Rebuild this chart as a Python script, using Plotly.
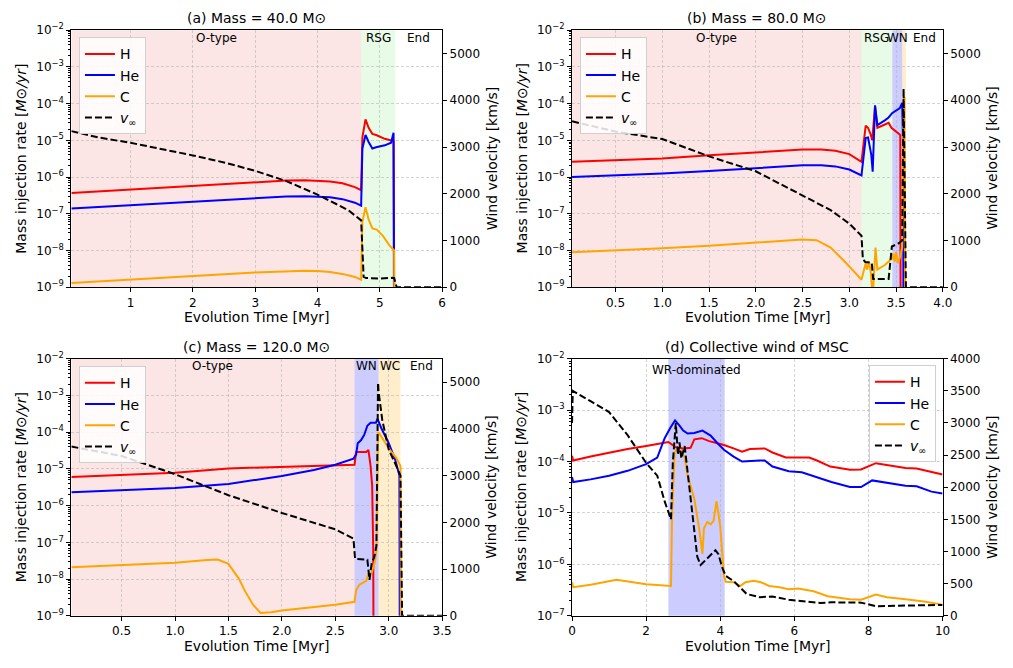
import plotly.graph_objects as go

FONT = "DejaVu Sans"

# ---------------- (a) 40 Msun ----------------
a_H_t = [0.05, 0.5, 1.0, 1.5, 2.0, 2.5, 3.0, 3.5, 3.8, 4.0, 4.2, 4.4, 4.6, 4.70, 4.72, 4.77, 4.82, 4.88, 4.94, 5.08, 5.18, 5.22, 5.23]
a_H = [3.7e-7, 4.1e-7, 4.6e-7, 5.1e-7, 5.7e-7, 6.4e-7, 7.2e-7, 8.0e-7, 8.2e-7, 8.0e-7, 7.6e-7, 6.8e-7, 5.3e-7, 4.4e-7, 1.2e-5, 3.7e-5, 2.2e-5, 1.5e-5, 1.4e-5, 1.1e-5, 9.8e-6, 9.5e-6, 1e-12]
a_He_t = [0.05, 0.5, 1.0, 1.5, 2.0, 2.5, 3.0, 3.5, 3.8, 4.0, 4.2, 4.4, 4.6, 4.70, 4.72, 4.77, 4.82, 4.88, 4.94, 5.08, 5.18, 5.22, 5.235]
a_He = [1.4e-7, 1.55e-7, 1.7e-7, 1.9e-7, 2.15e-7, 2.4e-7, 2.7e-7, 2.95e-7, 3.0e-7, 2.95e-7, 2.8e-7, 2.5e-7, 2.0e-7, 1.65e-7, 6e-6, 1.4e-5, 9e-6, 6e-6, 6.5e-6, 7.3e-6, 8.6e-6, 1.6e-5, 1e-12]
a_C_t = [0.05, 0.5, 1.0, 1.5, 2.0, 2.5, 3.0, 3.5, 3.8, 4.0, 4.2, 4.4, 4.6, 4.70, 4.72, 4.77, 4.82, 4.88, 4.95, 5.05, 5.15, 5.23, 5.24]
a_C = [1.3e-9, 1.45e-9, 1.6e-9, 1.8e-9, 2.0e-9, 2.25e-9, 2.5e-9, 2.75e-9, 2.8e-9, 2.75e-9, 2.6e-9, 2.3e-9, 1.9e-9, 1.6e-9, 6e-8, 1.5e-7, 7e-8, 4e-8, 3.7e-8, 2.5e-8, 1.4e-8, 1e-8, 1e-12]
a_v_t = [0.05, 0.5, 1.0, 1.5, 2.0, 2.5, 3.0, 3.5, 4.0, 4.3, 4.5, 4.70, 4.74, 4.78, 5.0, 5.2, 5.23, 5.27, 6.0]
a_v = [3340, 3200, 3090, 2960, 2820, 2670, 2490, 2270, 1980, 1780, 1640, 1430, 220, 195, 185, 200, 195, 0, 0]
a_phases = ["O-type", "RSG", "End"]
a_edges = [0.05, 4.70, 5.25, 6.0]

# ---------------- (b) 80 Msun ----------------
b_H_t = [0.035, 0.5, 1.0, 1.5, 2.0, 2.5, 2.7, 2.85, 3.0, 3.1, 3.13, 3.175, 3.2, 3.23, 3.245, 3.275, 3.30, 3.35, 3.42, 3.45, 3.515, 3.545, 3.55]
b_H = [2.6e-6, 2.9e-6, 3.2e-6, 3.9e-6, 4.7e-6, 5.6e-6, 5.6e-6, 5.2e-6, 4.2e-6, 3.0e-6, 2.6e-6, 2.5e-5, 2.2e-5, 1.4e-5, 1e-5, 8.5e-5, 2.2e-5, 2.5e-5, 3.0e-5, 2.2e-5, 1.6e-5, 1.4e-5, 1e-12]
b_He_t = [0.035, 0.5, 1.0, 1.5, 2.0, 2.5, 2.7, 2.85, 3.0, 3.1, 3.13, 3.175, 3.2, 3.235, 3.25, 3.275, 3.30, 3.38, 3.42, 3.457, 3.5, 3.54, 3.565, 3.575, 3.58]
b_He = [1.0e-6, 1.1e-6, 1.25e-6, 1.45e-6, 1.75e-6, 2.1e-6, 2.1e-6, 1.95e-6, 1.6e-6, 1.2e-6, 1.1e-6, 1.15e-5, 1.2e-5, 4e-6, 1.4e-6, 9e-5, 2.6e-5, 3.5e-5, 4.2e-5, 5.5e-5, 6.5e-5, 7.5e-5, 1.05e-4, 8e-6, 1e-12]
b_C_t = [0.035, 0.5, 1.0, 1.5, 2.0, 2.5, 2.65, 2.8, 2.95, 3.05, 3.13, 3.175, 3.19, 3.21, 3.23, 3.25, 3.28, 3.30, 3.38, 3.455, 3.47, 3.485, 3.5, 3.52, 3.545, 3.565, 3.575, 3.59, 3.6]
b_C = [9e-9, 1.0e-8, 1.15e-8, 1.35e-8, 1.65e-8, 2.0e-8, 1.9e-8, 1.2e-8, 5e-9, 2.6e-9, 1.6e-9, 4.5e-9, 3e-9, 5e-9, 2.5e-9, 5e-10, 1.2e-8, 3e-9, 4e-9, 6e-9, 8e-9, 5e-9, 9e-9, 4.5e-9, 7e-9, 1.2e-8, 1e-5, 1.5e-4, 1e-12]
b_v_t = [0.035, 0.5, 1.0, 1.5, 2.0, 2.5, 2.8, 3.0, 3.13, 3.145, 3.17, 3.24, 3.255, 3.42, 3.455, 3.53, 3.565, 3.58, 3.605, 4.0]
b_v = [3550, 3330, 3170, 2800, 2480, 1960, 1650, 1360, 1100, 600, 540, 520, 175, 175, 870, 940, 1000, 4250, 0, 0]
b_phases = ["O-type", "RSG", "WN", "", "End"]
b_edges = [0.035, 3.13, 3.46, 3.565, 3.605, 4.0]

# ---------------- (c) 120 Msun ----------------
c_H_t = [0.03, 0.5, 1.0, 1.5, 2.0, 2.5, 2.68, 2.695, 2.79, 2.81, 2.83, 2.845, 2.855, 2.86]
c_H = [6.0e-6, 6.9e-6, 7.9e-6, 1.03e-5, 1.15e-5, 1.25e-5, 1.3e-5, 2.9e-5, 2.9e-5, 3.3e-5, 1.2e-5, 3.5e-6, 6e-8, 1e-12]
c_He_t = [0.03, 0.5, 1.0, 1.5, 2.0, 2.3, 2.5, 2.67, 2.695, 2.71, 2.74, 2.77, 2.80, 2.83, 2.88, 2.895, 2.93, 3.0, 3.06, 3.10, 3.105]
c_He = [2.3e-6, 2.6e-6, 3.0e-6, 3.9e-6, 6.4e-6, 9.3e-6, 1.3e-5, 1.9e-5, 2.5e-5, 5e-5, 6e-5, 8.3e-5, 1.5e-4, 1.8e-4, 1.8e-4, 2.3e-4, 1.3e-4, 5e-5, 1.8e-5, 6.6e-6, 1e-12]
c_C_t = [0.03, 0.5, 1.0, 1.3, 1.4, 1.5, 1.6, 1.65, 1.73, 1.8, 1.9, 2.0, 2.5, 2.68, 2.695, 2.725, 2.79, 2.81, 2.84, 2.87, 2.885, 2.9, 2.905, 3.01, 3.07, 3.11, 3.115]
c_C = [2.1e-8, 2.4e-8, 2.8e-8, 3.3e-8, 3.4e-8, 2.6e-8, 1e-8, 5e-9, 2e-9, 1.2e-9, 1.25e-9, 1.4e-9, 2e-9, 2.4e-9, 5e-9, 7e-9, 9e-9, 1.4e-8, 1.5e-8, 2.9e-8, 5.9e-8, 9e-5, 1e-4, 3.3e-5, 2e-5, 1.2e-5, 1e-12]
c_v_t = [0.03, 0.5, 1.0, 1.5, 2.0, 2.5, 2.67, 2.685, 2.8, 2.82, 2.84, 2.865, 2.885, 2.9, 2.905, 2.94, 3.0, 3.07, 3.11, 3.125, 3.5]
c_v = [3620, 3420, 3030, 2580, 2200, 1850, 1650, 1220, 1200, 770, 1120, 1260, 1500, 4990, 4800, 4180, 3560, 3210, 3000, 0, 0]
c_phases = ["O-type", "WN", "WC", "End"]
c_edges = [0.03, 2.68, 2.905, 3.11, 3.5]

# ---------------- (d) collective wind ----------------
d_H_t = [0, 0.03, 0.5, 1, 1.5, 2, 2.4, 2.6, 2.8, 3.0, 3.2, 3.3, 3.5, 3.7, 3.9, 4.1, 4.36, 4.59, 4.8, 5.06, 5.2, 5.41, 5.77, 6.0, 6.4, 6.61, 6.97, 7.5, 7.8, 8.2, 8.5, 9.0, 9.3, 9.7, 10]
d_H = [1.3e-4, 1.05e-4, 1.25e-4, 1.5e-4, 1.75e-4, 2.0e-4, 2.3e-4, 2.4e-4, 1.9e-4, 1.8e-4, 1.85e-4, 2.7e-4, 2.85e-4, 2.5e-4, 2.3e-4, 2.1e-4, 1.8e-4, 1.55e-4, 1.75e-4, 1.75e-4, 1.8e-4, 1.5e-4, 1.2e-4, 1.2e-4, 1.2e-4, 1.05e-4, 8e-5, 6.9e-5, 7e-5, 9.3e-5, 8.5e-5, 7.5e-5, 7.3e-5, 6.3e-5, 5.6e-5]
d_He_t = [0, 0.03, 0.5, 1, 1.5, 2, 2.3, 2.5, 2.65, 2.78, 2.9, 3.0, 3.12, 3.3, 3.52, 3.74, 3.92, 4.1, 4.36, 4.59, 5.06, 5.2, 5.41, 5.85, 6.2, 6.6, 7.0, 7.5, 7.8, 8.1, 8.5, 9.0, 9.3, 9.7, 10]
d_He = [5e-5, 4e-5, 4.5e-5, 5.3e-5, 6.6e-5, 8.9e-5, 1.2e-4, 2.85e-4, 4.5e-4, 6.3e-4, 5e-4, 4e-4, 3.5e-4, 3.6e-4, 4e-4, 3.2e-4, 2.3e-4, 1.7e-4, 1.25e-4, 1.0e-4, 1.05e-4, 1.05e-4, 8e-5, 6.5e-5, 6.2e-5, 5e-5, 4e-5, 3.2e-5, 3.2e-5, 4.3e-5, 3.9e-5, 3.4e-5, 3.3e-5, 2.6e-5, 2.4e-5]
d_C_t = [0, 0.03, 0.5, 1.2, 2, 2.6, 2.67, 2.7, 2.77, 2.85, 2.95, 3.04, 3.12, 3.3, 3.43, 3.52, 3.56, 3.65, 3.74, 3.82, 3.9, 4.0, 4.1, 4.15, 4.36, 4.54, 4.68, 4.9, 5.1, 5.32, 5.6, 5.85, 6.1, 6.52, 6.9, 7.5, 7.8, 8.2, 8.5, 9.0, 9.5, 10]
d_C = [4.5e-7, 3.6e-7, 4e-7, 5e-7, 4.1e-7, 3.8e-7, 3.8e-7, 1e-5, 1.5e-4, 1.8e-4, 1.5e-4, 1.2e-4, 5.3e-5, 1.9e-5, 5e-6, 1.6e-6, 5e-6, 6.7e-6, 6e-6, 7e-6, 1.7e-5, 5.5e-6, 6e-7, 4.6e-7, 4.5e-7, 3.8e-7, 4.5e-7, 4.8e-7, 4.5e-7, 3.8e-7, 3.6e-7, 3.3e-7, 3.4e-7, 3.0e-7, 2.4e-7, 2.1e-7, 2.05e-7, 2.6e-7, 2.3e-7, 2.1e-7, 1.9e-7, 1.65e-7]
d_v_t = [0, 0.02, 0.5, 1.0, 1.5, 2.0, 2.3, 2.5, 2.67, 2.72, 2.8, 2.86, 2.9, 2.95, 3.04, 3.12, 3.21, 3.3, 3.38, 3.47, 3.65, 3.87, 3.95, 4.06, 4.15, 4.36, 4.54, 4.71, 5.06, 5.41, 5.85, 6.28, 6.7, 7.0, 7.5, 7.8, 8.2, 9.0, 10]
d_v = [3000, 3500, 3340, 3170, 2810, 2380, 2180, 1780, 1500, 2380, 3000, 2500, 2700, 2450, 2640, 2230, 1730, 1270, 920, 790, 890, 1020, 960, 740, 620, 540, 440, 340, 290, 300, 250, 220, 200, 210, 210, 205, 150, 155, 170]
d_phases = ["WR-dominated"]
d_edges = [2.6, 4.12]

TITLES = ["(a) Mass = 40.0 M⊙", "(b) Mass = 80.0 M⊙", "(c) Mass = 120.0 M⊙", "(d) Collective wind of MSC"]

PHASE_COL = {"O-type": "rgba(240,110,110,0.18)", "RSG": "rgba(144,238,144,0.22)",
             "WN": "rgba(0,0,255,0.2)", "WC": "rgba(255,165,0,0.2)", "End": "rgba(255,255,255,0)",
             "WR-dominated": "rgba(0,0,255,0.2)", "": "rgba(255,165,0,0.2)"}
COL = {"H": "#ff0000", "He": "#0000ff", "C": "#ffa500"}
GRID = "rgba(176,176,176,0.55)"

W, H = 1013, 668
# pixel boxes of the four plot areas: (left, right, top, bottom)
boxes = [(68.3, 444.3, 21.7, 285.0), (576.0, 952.0, 21.7, 285.0),
         (68.3, 444.3, 358.3, 621.7), (576.0, 951.7, 358.3, 621.7)]

panels = [
    dict(H=(a_H_t, a_H), He=(a_He_t, a_He), C=(a_C_t, a_C), v=(a_v_t, a_v), ph=a_phases, ed=a_edges,
         xr=[0.05, 6.0], xt=[1, 2, 3, 4, 5, 6], xfmt="d", yl=[-9, -2], vr=[0, 5500], vt=list(range(0, 5001, 1000)),
         leg=dict(x=76, y=29, xa="left")),
    dict(H=(b_H_t, b_H), He=(b_He_t, b_He), C=(b_C_t, b_C), v=(b_v_t, b_v), ph=b_phases, ed=b_edges,
         xr=[0.035, 4.0], xt=[0.5, 1.0, 1.5, 2.0, 2.5, 3.0, 3.5, 4.0], xfmt=".1f", yl=[-9, -2], vr=[0, 5500],
         vt=list(range(0, 5001, 1000)), leg=dict(x=584, y=29, xa="left")),
    dict(H=(c_H_t, c_H), He=(c_He_t, c_He), C=(c_C_t, c_C), v=(c_v_t, c_v), ph=c_phases, ed=c_edges,
         xr=[0.03, 3.5], xt=[0.5, 1.0, 1.5, 2.0, 2.5, 3.0, 3.5], xfmt=".1f", yl=[-9, -2], vr=[0, 5500],
         vt=list(range(0, 5001, 1000)), leg=dict(x=76, y=366, xa="left")),
    dict(H=(d_H_t, d_H), He=(d_He_t, d_He), C=(d_C_t, d_C), v=(d_v_t, d_v), ph=d_phases, ed=d_edges,
         xr=[0, 10], xt=[0, 2, 4, 6, 8, 10], xfmt="d", yl=[-7, -2], vr=[0, 4000], vt=list(range(0, 4001, 500)),
         leg=dict(x=945, y=365, xa="right")),
]

fig = go.Figure()
layout = dict(width=W, height=H, margin=dict(l=0, r=0, t=0, b=0), paper_bgcolor="white",
              plot_bgcolor="white", showlegend=True, font=dict(family=FONT, size=12, color="black"))
shapes, annots = [], []


def sup(e):
    return "10<sup>\u2212%d</sup>" % (-e)


for i, p in enumerate(panels):
    n = i + 1
    xa = "x" if n == 1 else "x%d" % n
    yl_id = 2 * n - 1
    yr_id = 2 * n
    yla = "y" if yl_id == 1 else "y%d" % yl_id
    yra = "y%d" % yr_id
    legname = "legend" if n == 1 else "legend%d" % n
    L, R, T, B = boxes[i]
    xdom = [L / W, R / W]
    ydom = [1 - B / H, 1 - T / H]

    for sp in ["H", "He", "C"]:
        t, v = p[sp]
        fig.add_trace(go.Scatter(x=t, y=v, mode="lines", name=sp, line=dict(color=COL[sp], width=2),
                                 xaxis=xa, yaxis=yla, legend=legname))
    t, v = p["v"]
    fig.add_trace(go.Scatter(x=t, y=v, mode="lines", name="<i>v</i><sub>∞</sub>",
                             line=dict(color="black", width=2, dash="7px,3px"),
                             xaxis=xa, yaxis=yra, legend=legname))

    axkey = "xaxis" if n == 1 else "xaxis%d" % n
    layout[axkey] = dict(domain=xdom, anchor=yla, range=p["xr"], tickvals=p["xt"], tickformat=p["xfmt"],
                         ticks="outside", ticklen=4, tickwidth=1, tickcolor="black", showline=True,
                         linecolor="black", linewidth=1, mirror=True, showgrid=True,
                         gridcolor=GRID, griddash="3px,2px", gridwidth=0.8,
                         zeroline=False, tickfont=dict(size=12), fixedrange=True)
    lo, hi = p["yl"]
    major = [10.0 ** e for e in range(lo, hi + 1)]
    minor = [k * 10.0 ** e for e in range(lo, hi) for k in range(2, 10)]
    ylkey = "yaxis" if yl_id == 1 else "yaxis%d" % yl_id
    layout[ylkey] = dict(domain=ydom, anchor=xa, type="log", range=[lo, hi], tickvals=major,
                         ticktext=[sup(e) for e in range(lo, hi + 1)], ticks="outside", ticklen=4,
                         tickcolor="black", showline=True, linecolor="black", linewidth=1, mirror=True,
                         showgrid=True, gridcolor=GRID, griddash="3px,2px", gridwidth=0.8,
                         zeroline=False, tickfont=dict(size=12),
                         minor=dict(tickvals=minor, ticks="outside", ticklen=2, tickcolor="black", showgrid=False))
    layout["yaxis%d" % yr_id] = dict(overlaying=yla, side="right", anchor=xa, range=p["vr"], tickvals=p["vt"],
                                     ticks="outside", ticklen=4, tickcolor="black", showline=True,
                                     linecolor="black", linewidth=1, showgrid=False, zeroline=False,
                                     tickfont=dict(size=12))
    layout[legname] = dict(x=p["leg"]["x"] / W, y=1 - p["leg"]["y"] / H, xanchor=p["leg"]["xa"], yanchor="top",
                           xref="paper", yref="paper", bgcolor="rgba(255,255,255,0.85)",
                           bordercolor="#d0d0d0", borderwidth=1, font=dict(size=14, family=FONT),
                           itemwidth=30, tracegroupgap=0)

    # phase bands
    ed = p["ed"]
    for k, name in enumerate(p["ph"]):
        shapes.append(dict(type="rect", xref=xa, yref=yla + " domain", x0=ed[k], x1=ed[k + 1], y0=0, y1=1,
                           fillcolor=PHASE_COL[name], line=dict(width=0), layer="below"))
        if name:
            ylab = 0.958 if n == 4 else 0.971
            annots.append(dict(text=name, xref=xa, yref=yla + " domain", x=(ed[k] + ed[k + 1]) / 2, y=ylab,
                               showarrow=False, xanchor="center", yanchor="middle", font=dict(size=12)))

    cx = (L + R) / 2 / W
    annots.append(dict(text=TITLES[i], xref="paper", yref="paper", x=cx, y=1 - (T - 12) / H, showarrow=False,
                       xanchor="center", yanchor="middle", font=dict(size=14)))
    annots.append(dict(text="Evolution Time [Myr]", xref="paper", yref="paper", x=cx, y=1 - (B + 31) / H,
                       showarrow=False, xanchor="center", yanchor="middle", font=dict(size=14)))
    cy = 1 - (T + B) / 2 / H
    annots.append(dict(text="Mass injection rate [<i>M⊙/yr</i>]", xref="paper", yref="paper", x=(L - 51) / W,
                       y=cy, textangle=-90, showarrow=False, xanchor="center", yanchor="middle",
                       font=dict(size=14)))
    annots.append(dict(text="Wind velocity [km/s]", xref="paper", yref="paper", x=(R + 50) / W, y=cy,
                       textangle=-90, showarrow=False, xanchor="center", yanchor="middle", font=dict(size=14)))

layout["shapes"] = shapes
layout["annotations"] = annots
fig.update_layout(**layout)
fig.write_html("out.html")
